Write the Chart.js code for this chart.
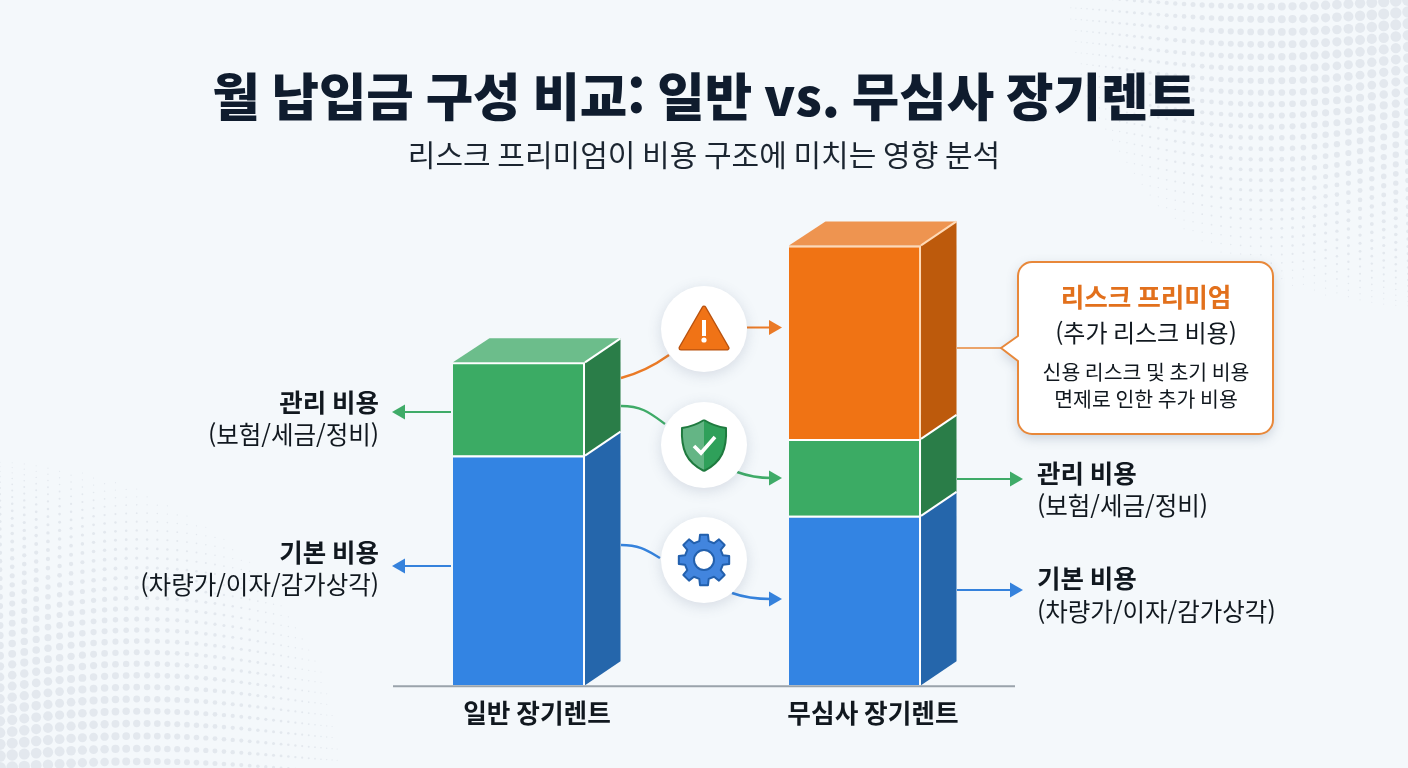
<!DOCTYPE html>
<html lang="ko">
<head>
<meta charset="utf-8">
<title>월 납입금 구성 비교</title>
<style>
html,body{margin:0;padding:0;background:#f4f8fb;}
canvas{display:block;}
</style>
<script src="https://cdn.jsdelivr.net/npm/chart.js@4/dist/chart.umd.min.js"></script>
</head>
<body>
<canvas id="mycanvas" width="1408" height="768"></canvas>
<script>
var categories = ['일반 장기렌트', '무심사 장기렌트'];
var seriesNames = ['기본 비용', '관리 비용', '리스크 프리미엄'];
var baseCost = [52.2, 38.5];
var mgmtCost = [21.2, 17.5];
var riskPremium = [null, 44];

var titleText = '월 납입금 구성 비교: 일반 vs. 무심사 장기렌트';
var subtitleText = '리스크 프리미엄이 비용 구조에 미치는 영향 분석';
var mgmtNote = '(보험/세금/정비)';
var baseNote = '(차량가/이자/감가상각)';
var calloutTitle = '리스크 프리미엄';
var calloutNote = '(추가 리스크 비용)';
var calloutBody = ['신용 리스크 및 초기 비용', '면제로 인한 추가 비용'];

var FONT = '"Noto Sans CJK KR", "Noto Sans", sans-serif';
var BLUE = '#3384e3', GREEN = '#3bab64', ORANGE = '#f07314';
var DEPTH_X = 35.5, DEPTH_Y = 24;
var sideColors = ['#2566ab', '#2a7d48', '#bd5a0c'];
var topColors = ['#6ea6e8', '#6cbd8b', '#ee9450'];

function dots(ctx, cx, cy, sx, sy) {
	ctx.fillStyle = '#e3e8ee';
	for (var i = 0; i < 44; i++) {
		for (var j = 0; j < 40; j++) {
			var x = 360 * (1 - Math.pow(1 - i / 44, 1.5));
			var y = 320 * (1 - Math.pow(1 - j / 40, 1.5));
			y += 22 * Math.sin(x / 90) * (y / 300 + 0.3);
			var d = Math.sqrt(x * x * 0.9 + y * y * 1.1);
			var r = 6 * (1 - d / 350);
			if (r < 0.5) continue;
			ctx.beginPath();
			ctx.arc(cx + sx * x, cy + sy * y, r, 0, Math.PI * 2);
			ctx.fill();
		}
	}
}

function quad(ctx, pts, fill) {
	ctx.beginPath();
	ctx.moveTo(pts[0][0], pts[0][1]);
	for (var i = 1; i < pts.length; i++) ctx.lineTo(pts[i][0], pts[i][1]);
	ctx.closePath();
	ctx.fillStyle = fill;
	ctx.fill();
}

function head(ctx, x, y, dir, color) {
	quad(ctx, [[x, y], [x - dir * 13, y - 7.5], [x - dir * 13, y + 7.5]], color);
}

function arrow(ctx, x1, x2, y, color) {
	var dir = x2 > x1 ? 1 : -1;
	ctx.strokeStyle = color;
	ctx.lineWidth = 2;
	ctx.beginPath();
	ctx.moveTo(x1, y);
	ctx.lineTo(x2 - dir * 12, y);
	ctx.stroke();
	head(ctx, x2, y, dir, color);
}

function curve(ctx, x1, y1, c1x, c1y, c2x, c2y, x2, y2, color) {
	ctx.strokeStyle = color;
	ctx.lineWidth = 2.4;
	ctx.beginPath();
	ctx.moveTo(x1, y1);
	ctx.bezierCurveTo(c1x, c1y, c2x, c2y, x2, y2);
	ctx.stroke();
}

function circle(ctx, x, y) {
	ctx.save();
	ctx.shadowColor = 'rgba(70,90,120,0.18)';
	ctx.shadowBlur = 14;
	ctx.shadowOffsetY = 3;
	ctx.fillStyle = '#fff';
	ctx.beginPath();
	ctx.arc(x, y, 43, 0, Math.PI * 2);
	ctx.fill();
	ctx.restore();
}

function warnIcon(ctx, x, y) {
	ctx.beginPath();
	ctx.moveTo(x, y - 21);
	ctx.lineTo(x + 23, y + 19);
	ctx.lineTo(x - 23, y + 19);
	ctx.closePath();
	ctx.lineJoin = 'round';
	ctx.lineWidth = 5;
	ctx.strokeStyle = '#b9520f';
	ctx.stroke();
	ctx.lineWidth = 2.5;
	ctx.strokeStyle = '#f07316';
	ctx.fillStyle = '#f07316';
	ctx.stroke();
	ctx.fill();
	ctx.fillStyle = '#fff';
	ctx.fillRect(x - 2, y - 9, 4, 16);
	ctx.beginPath();
	ctx.arc(x, y + 11, 2.6, 0, Math.PI * 2);
	ctx.fill();
}

function shieldIcon(ctx, x, y) {
	function half(s) {
		ctx.beginPath();
		ctx.moveTo(x, y - 25);
		ctx.bezierCurveTo(x + s * 8, y - 20, x + s * 15, y - 18, x + s * 22, y - 17);
		ctx.bezierCurveTo(x + s * 23, y + 4, x + s * 18, y + 17, x, y + 26);
	}
	ctx.fillStyle = '#64b585';
	half(-1); ctx.closePath(); ctx.fill();
	ctx.fillStyle = '#2fa05a';
	half(1); ctx.closePath(); ctx.fill();
	ctx.strokeStyle = '#1f7a3f';
	ctx.lineWidth = 2;
	half(-1); ctx.stroke();
	half(1); ctx.stroke();
	ctx.strokeStyle = '#fff';
	ctx.lineWidth = 3.6;
	ctx.lineJoin = 'miter';
	ctx.beginPath();
	ctx.moveTo(x - 10, y + 1);
	ctx.lineTo(x - 3, y + 8);
	ctx.lineTo(x + 11, y - 8);
	ctx.stroke();
}

function gearIcon(ctx, x, y) {
	var teeth = 8, outer = 25.5, inner = 19.5;
	ctx.beginPath();
	for (var i = 0; i < teeth; i++) {
		var a = i * Math.PI * 2 / teeth - Math.PI / 2, w = Math.PI / teeth;
		ctx.lineTo(x + inner * Math.cos(a - w * 0.62), y + inner * Math.sin(a - w * 0.62));
		ctx.lineTo(x + outer * Math.cos(a - w * 0.4), y + outer * Math.sin(a - w * 0.4));
		ctx.lineTo(x + outer * Math.cos(a + w * 0.4), y + outer * Math.sin(a + w * 0.4));
		ctx.lineTo(x + inner * Math.cos(a + w * 0.62), y + inner * Math.sin(a + w * 0.62));
	}
	ctx.closePath();
	ctx.lineJoin = 'round';
	ctx.lineWidth = 2;
	ctx.fillStyle = '#4285de';
	ctx.strokeStyle = '#2360ad';
	ctx.fill();
	ctx.stroke();
	ctx.beginPath();
	ctx.arc(x, y, 10, 0, Math.PI * 2);
	ctx.fillStyle = '#fff';
	ctx.fill();
	ctx.stroke();
}

function sideLabel(ctx, x, y1, y2, align, name, note) {
	ctx.textAlign = align;
	ctx.textBaseline = 'middle';
	ctx.fillStyle = '#11181f';
	ctx.font = 'bold 25.5px ' + FONT;
	ctx.fillText(name, x, y1);
	ctx.font = '24.5px ' + FONT;
	ctx.fillText(note, x, y2);
}

function callout(ctx) {
	ctx.strokeStyle = '#e8883a';
	ctx.lineWidth = 1.6;
	ctx.beginPath();
	ctx.moveTo(957, 348);
	ctx.lineTo(1002, 348);
	ctx.stroke();

	var l = 1018, t = 262, r = 1273, b = 434, rad = 14;
	ctx.beginPath();
	ctx.moveTo(l + rad, t);
	ctx.arcTo(r, t, r, b, rad);
	ctx.arcTo(r, b, l, b, rad);
	ctx.arcTo(l, b, l, t, rad);
	ctx.lineTo(l, 361);
	ctx.lineTo(1001, 348);
	ctx.lineTo(l, 336);
	ctx.arcTo(l, t, r, t, rad);
	ctx.closePath();
	ctx.save();
	ctx.shadowColor = 'rgba(70,90,120,0.25)';
	ctx.shadowBlur = 12;
	ctx.shadowOffsetY = 4;
	ctx.fillStyle = '#fff';
	ctx.fill();
	ctx.restore();
	ctx.lineWidth = 2;
	ctx.stroke();

	ctx.textAlign = 'center';
	ctx.textBaseline = 'middle';
	ctx.fillStyle = '#e2701c';
	ctx.font = 'bold 25.6px ' + FONT;
	ctx.fillText(calloutTitle, 1146, 297);
	ctx.fillStyle = '#11181f';
	ctx.font = '24px ' + FONT;
	ctx.fillText(calloutNote, 1146, 333);
	ctx.font = '20.5px ' + FONT;
	ctx.fillText(calloutBody[0], 1146, 372);
	ctx.fillText(calloutBody[1], 1146, 399);
}

var backdrop = {
	id: 'backdrop',
	beforeDraw: function(chart) {
		var ctx = chart.ctx;
		ctx.save();
		ctx.fillStyle = '#f4f8fb';
		ctx.fillRect(0, 0, chart.width, chart.height);
		dots(ctx, 0, 768, 1, -1);
		dots(ctx, 1408, 0, -1, 1);
		ctx.restore();
	}
};

// sides and tops of the boxes, worked out from the bar elements
var boxes = {
	id: 'boxes',
	beforeDatasetsDraw: function(chart) {
		var ctx = chart.ctx;
		var y0 = chart.scales.y.getPixelForValue(0);
		ctx.save();
		ctx.strokeStyle = '#9aa3ab';
		ctx.lineWidth = 2;
		ctx.beginPath();
		ctx.moveTo(393, y0 + 1);
		ctx.lineTo(1015, y0 + 1);
		ctx.stroke();
		ctx.restore();
	},
	afterDatasetsDraw: function(chart) {
		var ctx = chart.ctx;
		ctx.save();
		categories.forEach(function(c, i) {
			var last = -1;
			chart.data.datasets.forEach(function(ds, d) {
				if (ds.data[i] === null) return;
				last = d;
				var el = chart.getDatasetMeta(d).data[i];
				var r = el.x + el.width / 2;
				quad(ctx, [[r, el.y], [r + DEPTH_X, el.y - DEPTH_Y], [r + DEPTH_X, el.base - DEPTH_Y], [r, el.base]], sideColors[d]);
			});
			chart.data.datasets.forEach(function(ds, d) {
				if (ds.data[i] === null) return;
				var el = chart.getDatasetMeta(d).data[i];
				var r = el.x + el.width / 2;
				ctx.strokeStyle = d == 2 ? '#ffd9b5' : '#ffffff';
				ctx.lineWidth = 2;
				if (d === last) {
					var l = el.x - el.width / 2;
					quad(ctx, [[l, el.y], [l + DEPTH_X + 1, el.y - DEPTH_Y], [r + DEPTH_X, el.y - DEPTH_Y], [r, el.y]], topColors[d]);
				}
				ctx.beginPath();
				ctx.moveTo(r, el.y);
				ctx.lineTo(r + DEPTH_X, el.y - DEPTH_Y);
				ctx.stroke();
			});
		});
		ctx.restore();
	}
};

var notes = {
	id: 'notes',
	afterDraw: function(chart) {
		var ctx = chart.ctx;
		ctx.save();
		ctx.lineCap = 'butt';

		curve(ctx, 621, 378, 640, 373, 655, 365, 669, 355, '#ea7a26');
		arrow(ctx, 747, 782, 327.5, '#ea7a26');
		curve(ctx, 621, 406, 642, 406, 650, 413, 665, 424, '#3fab68');
		curve(ctx, 737, 472, 748, 476, 758, 478, 771, 478, '#3fab68');
		head(ctx, 782, 478, 1, '#3fab68');
		curve(ctx, 621, 545, 640, 545, 648, 551, 660, 558, '#3582dc');
		curve(ctx, 732, 593, 743, 597, 755, 599, 771, 599, '#3582dc');
		head(ctx, 782, 599, 1, '#3582dc');

		circle(ctx, 704, 329);
		circle(ctx, 704, 445);
		circle(ctx, 704, 560);
		warnIcon(ctx, 704, 329);
		shieldIcon(ctx, 704, 445);
		gearIcon(ctx, 704, 560);

		arrow(ctx, 451, 392, 412, '#3fab68');
		arrow(ctx, 451, 392, 566, '#3582dc');
		arrow(ctx, 957, 1023, 479, '#3fab68');
		arrow(ctx, 957, 1023, 590, '#3582dc');

		sideLabel(ctx, 379, 402, 435, 'right', seriesNames[1], mgmtNote);
		sideLabel(ctx, 379, 552, 585, 'right', seriesNames[0], baseNote);
		sideLabel(ctx, 1037, 473, 506, 'left', seriesNames[1], mgmtNote);
		sideLabel(ctx, 1037, 578, 612, 'left', seriesNames[0], baseNote);

		callout(ctx);
		ctx.restore();
	}
};

function segment(name, values, color, edge) {
	return {
		label: name,
		data: values,
		backgroundColor: color,
		borderColor: edge,
		borderWidth: {top: 2, right: 2, left: 0, bottom: 0},
		borderSkipped: false,
		categoryPercentage: 1,
		barPercentage: 0.393
	};
}

var ctx = document.getElementById('mycanvas');
var barGraph = new Chart(ctx, {
	type: 'bar',
	data: {
		labels: categories,
		datasets: [
			segment(seriesNames[0], baseCost, BLUE, '#ffffff'),
			segment(seriesNames[1], mgmtCost, GREEN, '#ffffff'),
			segment(seriesNames[2], riskPremium, ORANGE, '#ffd9b5')
		]
	},
	plugins: [backdrop, boxes, notes],
	options: {
		responsive: false,
		animation: false,
		layout: {padding: {top: 0, bottom: 34, left: 0, right: 0}},
		plugins: {
			legend: {display: false},
			tooltip: {enabled: false},
			title: {
				display: true,
				text: titleText,
				color: '#0f1c2e',
				font: {family: FONT, size: 51.6, weight: '900', lineHeight: 1.2},
				padding: {top: 65, bottom: 5}
			},
			subtitle: {
				display: true,
				text: subtitleText,
				color: '#1b2530',
				font: {family: FONT, size: 30, weight: 'normal', lineHeight: 1.2},
				padding: {top: 5, bottom: 6.5}
			}
		},
		scales: {
			x: {
				stacked: true,
				grid: {display: false},
				border: {display: false},
				ticks: {
					color: '#11181f',
					font: {family: FONT, size: 25.7, weight: 'bold', lineHeight: 1.2},
					padding: 5,
					labelOffset: 18,
					maxRotation: 0
				}
			},
			y: {
				stacked: true,
				min: 0,
				max: 115,
				grid: {display: false},
				border: {display: false},
				ticks: {display: false},
				afterFit: function(s) { s.width = 351; }
			},
			// empty axis, only keeps the plot off the right side
			yRight: {
				position: 'right',
				grid: {display: false},
				border: {display: false},
				ticks: {display: false},
				afterFit: function(s) { s.width = 385; }
			}
		}
	}
});
</script>
</body>
</html>
